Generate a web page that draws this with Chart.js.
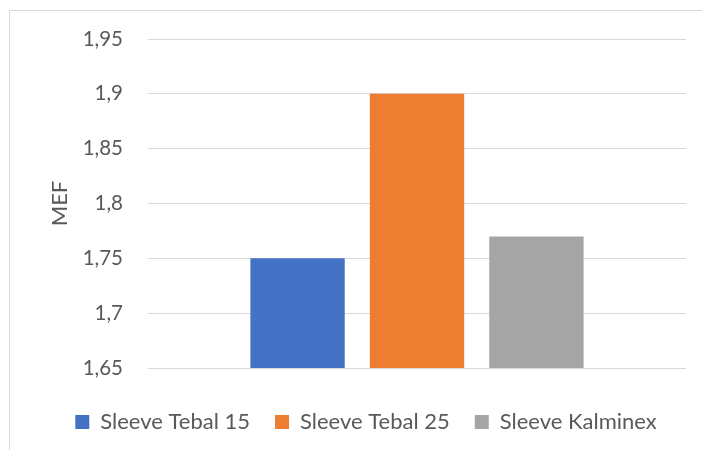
<!DOCTYPE html>
<html>
<head>
<meta charset="utf-8">
<script src="https://cdn.jsdelivr.net/npm/chart.js@4"></script>
<style>
html,body{margin:0;padding:0;background:#fff;}
#wrap{width:702px;height:450px;position:relative;}
</style>
</head>
<body>
<div id="wrap"><canvas id="c" width="702" height="450"></canvas></div>
<script>
const categories = [""];
const seriesNames = ["Sleeve Tebal 15", "Sleeve Tebal 25", "Sleeve Kalminex"];
const tebal15 = [1.75];
const tebal25 = [1.9];
const kalminex = [1.77];
const yTicks = [1.65, 1.7, 1.75, 1.8, 1.85, 1.9, 1.95];
const colors = ["#4472C4", "#ED7D31", "#A5A5A5"];

const FONT = "Lato, 'Liberation Sans', sans-serif";

const borderPlugin = {
  id: 'outerBorder',
  beforeDraw(chart) {
    const ctx = chart.ctx;
    ctx.save();
    ctx.fillStyle = '#fff';
    ctx.fillRect(0, 0, chart.width, chart.height);
    ctx.strokeStyle = '#D9D9D9';
    ctx.lineWidth = 1;
    ctx.strokeRect(9.5, 10.5, 900, 900);
    ctx.restore();
  },
  afterLayout(chart) {
    if (chart.legend) {
      chart.legend.left += 13;
      chart.legend.right += 13;
    }
  }
};

new Chart(document.getElementById('c'), {
  type: 'bar',
  data: {
    labels: categories,
    datasets: [
      { label: seriesNames[0], data: tebal15, backgroundColor: colors[0] },
      { label: seriesNames[1], data: tebal25, backgroundColor: colors[1] },
      { label: seriesNames[2], data: kalminex, backgroundColor: colors[2] }
    ]
  },
  options: {
    responsive: false,
    animation: false,
    devicePixelRatio: 1,
    layout: { padding: { left: 20, top: 39, right: 16, bottom: 7 } },
    datasets: { bar: { categoryPercentage: 0.666, barPercentage: 0.79 } },
    scales: {
      x: {
        display: true,
        grid: { display: false },
        border: { display: false },
        ticks: { display: false },
        afterFit(axis) { axis.height = 18; }
      },
      y: {
        min: 1.65, max: 1.95,
        afterBuildTicks(axis) { axis.ticks = yTicks.map(v => ({ value: v })); },
        afterFit(axis) { axis.width = 128; },
        grid: { color: '#D9D9D9', lineWidth: 1, drawTicks: false },
        border: { display: false },
        ticks: {
          padding: 25,
          color: '#595959',
          font: { family: FONT, size: 20.5 },
          callback: v => String(Number(v.toFixed(2))).replace('.', ',')
        },
        title: {
          display: true, text: 'MEF', color: '#595959',
          font: { family: FONT, size: 22 }, padding: { top: 27, bottom: 0 }
        }
      }
    },
    plugins: {
      legend: {
        position: 'bottom',
        labels: {
          boxWidth: 14, boxHeight: 14, padding: 25,
          color: '#595959',
          font: { family: FONT, size: 22 }
        }
      },
      tooltip: { enabled: false }
    }
  },
  plugins: [borderPlugin]
});
</script>
</body>
</html>
